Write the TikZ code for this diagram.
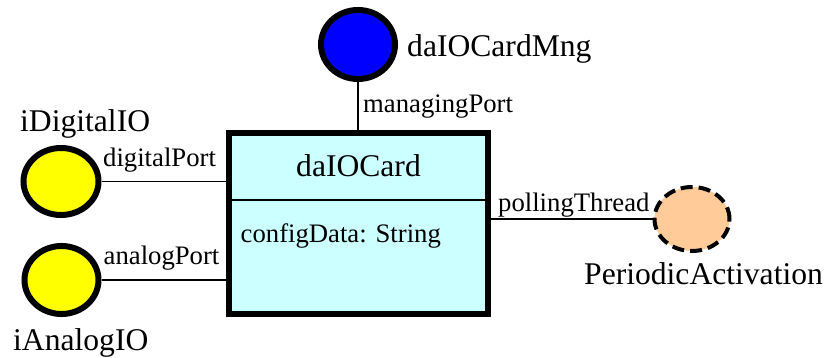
\documentclass[tikz,border=0pt]{standalone}
\usepackage{fontspec}
\setmainfont{Liberation Serif}
\usetikzlibrary{shapes.geometric}
\definecolor{boxcyan}{HTML}{CCFFFF}
\definecolor{portyellow}{HTML}{FFFF00}
\definecolor{mngblue}{HTML}{0000FF}
\definecolor{peach}{HTML}{FFCC99}
\tikzset{
  namefont/.style={font=\fontsize{31.6}{36}\selectfont},
  labelfont/.style={font=\fontsize{26.7}{30}\selectfont},
  nametext/.style={namefont, inner sep=0pt, anchor=base west},
  labeltext/.style={labelfont, inner sep=0pt, anchor=base west},
  iface/.style={ellipse, draw=black, line width=6pt, inner sep=0pt},
  partbox/.style={rectangle, draw=black, line width=6pt, fill=boxcyan, inner sep=0pt},
  conn/.style={draw=black, line width=1.3pt},
}
\begin{document}
\begin{tikzpicture}[x=1pt, y=-1pt]
\useasboundingbox (0,0) rectangle (828,358);

% the part
\node[partbox, minimum width=259.5pt, minimum height=181.5pt] (box) at (358.25,223.75) {};
\draw[line width=2pt] (box.west |- 0,200) coordinate (divl) -- (box.east |- 0,200) coordinate (divr);
\node[nametext] (title) at (296,176.7) {daIOCard};
\node[labeltext] (attr) at (240.5,243) {configData: String};

% connected roles
\node[iface, fill=mngblue, minimum width=74pt, minimum height=69pt] (mng) at (358,44.5) {};
\node[iface, fill=portyellow, minimum width=75pt, minimum height=67pt] (dig) at (61,181.5) {};
\node[iface, fill=portyellow, minimum width=74pt, minimum height=68pt] (ana) at (61.5,280) {};
\node[ellipse, draw=black, line width=4pt, dash pattern=on 12pt off 6pt, fill=peach,
      inner sep=0pt, minimum width=75pt, minimum height=64pt] (per) at (692,219) {};

% role names
\node[nametext] (mngname) at (407,56.7) {daIOCardMng};
\node[nametext] (digname) at (20,131.7) {iDigitalIO};
\node[nametext] (ananame) at (13,350.7) {iAnalogIO};
\node[nametext] (pername) at (584,285) {PeriodicActivation};

% connectors
\draw[conn] (mng.south) -- (mng.south |- box.north);
\draw[conn] (dig.east) -- (dig.east -| box.west);
\draw[conn] (ana.east) -- (ana.east -| box.west);
\draw[conn] (per.west) -- (per.west -| box.east);

% port labels
\node[labeltext] (mnglab) at (363,113) {managingPort};
\node[labeltext] (diglab) at (103,166.7) {digitalPort};
\node[labeltext] (analab) at (103.5,265) {analogPort};
\node[labeltext] (perlab) at (498,211.7) {pollingThread};
\end{tikzpicture}
\end{document}
